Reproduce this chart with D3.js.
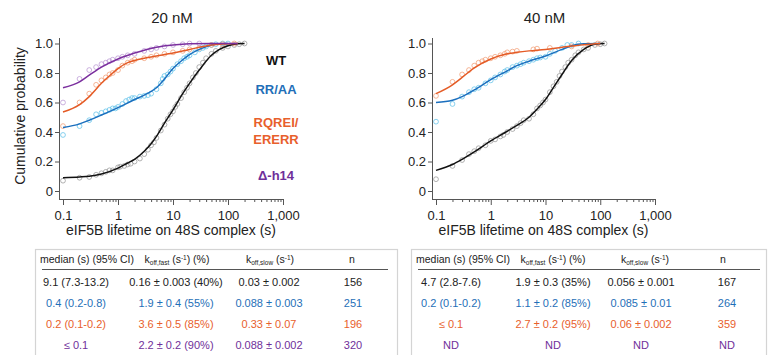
<!DOCTYPE html>
<html>
<head>
<meta charset="utf-8">
<script src="https://cdn.jsdelivr.net/npm/d3@7"></script>
<style>
  body { margin: 0; background: #fff; }
  svg { display: block; font-family: "Liberation Sans", Arial, sans-serif; }
  .axis path, .axis line { stroke: #555; }
  .axis text { fill: #222; font-size: 13px; font-family: "Liberation Sans", Arial, sans-serif; }
</style>
</head>
<body>
<div id="chart"></div>
<script>
// panel titles and series
const panelTitles = ['20 nM', '40 nM'];
const seriesNames = ['WT', 'RR/AA', 'RQREI/ERERR', 'Δ-h14'];
const lineColors = ['#111111', '#1b6fbe', '#e45b26', '#7b2f9e'];
const dotColors = ['#9a9a9a', '#62c3ea', '#f29f78', '#bb98d4'];
const xTicks = [0.1, 1, 10, 100, 1000];
const yTicks = [0, 0.2, 0.4, 0.6, 0.8, 1.0];

// fitted curves, 20 nM  [lifetime (s), cumulative probability]
const fit20WT = [[0.1,0.09],[0.2,0.095],[0.3,0.10],[0.5,0.115],[1,0.155],[1.5,0.19],[2,0.215],[3,0.27],[4,0.32],[5,0.37],[7,0.46],[10,0.55],[15,0.66],[20,0.73],[30,0.82],[50,0.92],[70,0.96],[100,0.985],[150,0.998],[200,1.0]];
const fit20RR = [[0.1,0.43],[0.2,0.455],[0.3,0.48],[0.5,0.515],[1,0.565],[2,0.62],[3,0.65],[4,0.675],[5,0.70],[7,0.76],[10,0.83],[15,0.89],[20,0.925],[30,0.96],[50,0.99],[70,0.998],[100,1.0]];
const fit20RQ = [[0.1,0.535],[0.2,0.585],[0.3,0.64],[0.5,0.73],[0.8,0.80],[1,0.83],[1.5,0.87],[2,0.885],[3,0.90],[5,0.915],[10,0.935],[20,0.96],[50,0.99],[100,0.999],[150,1.0]];
const fit20DH = [[0.1,0.70],[0.2,0.74],[0.3,0.785],[0.5,0.84],[1,0.895],[2,0.935],[5,0.975],[10,0.99],[20,0.998],[50,1.0],[150,1.0]];

// empirical points, 20 nM
const pts20WT = [[0.1,0.07],[0.2,0.09],[0.3,0.095],[0.4,0.11],[0.5,0.12],[0.6,0.13],[0.7,0.14],[0.8,0.14],[1.0,0.16],[1.1,0.165],[1.3,0.17],[1.5,0.18],[1.7,0.185],[2.0,0.2],[2.5,0.22],[3,0.25],[3.5,0.28],[4,0.31],[4.5,0.33],[5,0.36],[6,0.41],[7,0.45],[8,0.49],[9,0.52],[10,0.54],[11,0.57],[12,0.59],[14,0.63],[16,0.67],[18,0.70],[20,0.73],[23,0.77],[26,0.80],[30,0.84],[35,0.87],[40,0.90],[50,0.93],[60,0.95],[80,0.97],[100,0.98],[130,0.99],[160,0.995],[200,1.0]];
const pts20RR = [[0.1,0.38],[0.2,0.44],[0.3,0.48],[0.4,0.52],[0.5,0.53],[0.6,0.54],[0.7,0.55],[0.8,0.56],[0.9,0.56],[1.0,0.57],[1.2,0.59],[1.4,0.61],[1.6,0.62],[1.8,0.63],[2,0.63],[2.5,0.64],[3,0.645],[3.5,0.65],[4,0.66],[5,0.69],[6,0.73],[6.5,0.76],[7,0.78],[8,0.79],[9,0.81],[10,0.83],[12,0.86],[14,0.88],[16,0.90],[18,0.91],[20,0.92],[25,0.94],[30,0.96],[35,0.97],[40,0.98],[50,0.99],[60,0.995],[80,1.0],[100,1.0]];
const pts20RQ = [[0.1,0.44],[0.2,0.60],[0.3,0.66],[0.4,0.72],[0.5,0.75],[0.6,0.77],[0.7,0.79],[0.8,0.80],[1.0,0.82],[1.2,0.85],[1.5,0.87],[1.8,0.88],[2,0.89],[3,0.90],[4,0.91],[5,0.92],[7,0.93],[10,0.94],[15,0.95],[20,0.96],[30,0.97],[50,0.99],[80,0.995],[130,1.0]];
const pts20DH = [[0.1,0.60],[0.2,0.76],[0.3,0.82],[0.4,0.84],[0.5,0.86],[0.6,0.87],[0.7,0.88],[0.8,0.89],[1.0,0.90],[1.2,0.91],[1.5,0.92],[2,0.93],[3,0.95],[4,0.96],[5,0.97],[7,0.98],[10,0.99],[15,0.995],[20,1.0],[30,1.0]];

// fitted curves, 40 nM
const fit40WT = [[0.1,0.14],[0.2,0.18],[0.3,0.215],[0.5,0.265],[1,0.34],[2,0.405],[3,0.445],[5,0.50],[7,0.555],[10,0.62],[15,0.72],[20,0.79],[30,0.885],[50,0.96],[80,0.995],[120,1.0]];
const fit40RR = [[0.1,0.60],[0.2,0.615],[0.3,0.64],[0.5,0.685],[1,0.755],[2,0.815],[3,0.85],[5,0.88],[10,0.915],[20,0.96],[30,0.985],[50,0.998],[100,1.0]];
const fit40RQ = [[0.1,0.66],[0.2,0.72],[0.3,0.77],[0.5,0.835],[1,0.895],[2,0.93],[3,0.94],[5,0.95],[10,0.96],[20,0.975],[50,0.992],[100,1.0]];

// empirical points, 40 nM
const pts40WT = [[0.1,0.08],[0.2,0.17],[0.3,0.21],[0.4,0.25],[0.5,0.27],[0.6,0.29],[0.8,0.31],[1.0,0.34],[1.2,0.35],[1.5,0.37],[1.7,0.38],[2,0.40],[2.5,0.42],[3,0.44],[3.5,0.46],[4,0.48],[5,0.49],[6,0.52],[7,0.56],[8,0.58],[9,0.60],[10,0.62],[12,0.67],[14,0.71],[16,0.74],[18,0.78],[20,0.81],[23,0.84],[26,0.87],[30,0.89],[35,0.92],[40,0.94],[50,0.96],[60,0.97],[80,0.99],[100,0.995],[120,1.0]];
const pts40RR = [[0.1,0.47],[0.2,0.59],[0.3,0.64],[0.4,0.67],[0.5,0.69],[0.6,0.70],[0.8,0.73],[1.0,0.75],[1.2,0.77],[1.5,0.79],[1.8,0.81],[2,0.82],[2.5,0.84],[3,0.85],[3.5,0.86],[4,0.87],[5,0.88],[6,0.89],[7,0.90],[8,0.905],[10,0.91],[12,0.93],[15,0.95],[20,0.97],[25,0.99],[30,0.99],[40,1.0]];
const pts40RQ = [[0.1,0.645],[0.2,0.74],[0.3,0.79],[0.4,0.82],[0.5,0.85],[0.6,0.87],[0.7,0.88],[0.8,0.89],[1.0,0.90],[1.2,0.91],[1.5,0.92],[1.8,0.93],[2,0.94],[2.5,0.945],[3,0.95],[6,0.96],[7,0.965],[12,0.97],[30,0.98],[60,0.99],[90,1.0]];

// tables
const tableHeader = ['median (s) (95% CI)', 'k|off,fast| (s|-1|) (%)', 'k|off,slow| (s|-1|)', 'n'];
const table20 = [
  ['9.1 (7.3-13.2)', '0.16 ± 0.003 (40%)', '0.03 ± 0.002', '156'],
  ['0.4 (0.2-0.8)', '1.9 ± 0.4 (55%)', '0.088 ± 0.003', '251'],
  ['0.2 (0.1-0.2)', '3.6 ± 0.5 (85%)', '0.33 ± 0.07', '196'],
  ['≤ 0.1', '2.2 ± 0.2 (90%)', '0.088 ± 0.002', '320']
];
const table40 = [
  ['4.7 (2.8-7.6)', '1.9 ± 0.3 (35%)', '0.056 ± 0.001', '167'],
  ['0.2 (0.1-0.2)', '1.1 ± 0.2 (85%)', '0.085 ± 0.01', '264'],
  ['≤ 0.1', '2.7 ± 0.2 (95%)', '0.06 ± 0.002', '359'],
  ['ND', 'ND', 'ND', 'ND']
];
const rowColors = ['#222222', '#1f6fb8', '#e8602c', '#6f2f9a'];

const width = 770, height = 355;
const svg = d3.select('#chart').append('svg')
  .attr('width', width)
  .attr('height', height);

const panels = [
  { title: panelTitles[0], x0: 63, x1: 283, fits: [fit20WT, fit20RR, fit20RQ, fit20DH], pts: [pts20WT, pts20RR, pts20RQ, pts20DH], yLabel: true, legend: true },
  { title: panelTitles[1], x0: 436, x1: 655, fits: [fit40WT, fit40RR, fit40RQ], pts: [pts40WT, pts40RR, pts40RQ], yLabel: false, legend: false }
];

panels.forEach(p => {
  const x = d3.scaleLog().domain([0.1, 1000]).range([p.x0, p.x1]);
  const y = d3.scaleLinear().domain([0, 1]).range([191, 43.5]);
  const g = svg.append('g');

  // minor ticks on the log axis
  const minor = x.ticks().filter(t => !xTicks.some(m => Math.abs(m - t) < 1e-9));
  g.append('g')
    .attr('class', 'axis')
    .attr('transform', `translate(0, 199)`)
    .call(d3.axisBottom(x).tickValues(minor).tickSize(3).tickFormat(''))
    .select('.domain').remove();
  g.append('g')
    .attr('class', 'axis')
    .attr('transform', `translate(0, 199)`)
    .call(d3.axisBottom(x).tickValues(xTicks).tickSize(6).tickSizeOuter(0).tickFormat(d3.format(',')))
    .call(a => a.select('.domain').attr('d', `M${p.x0 - 4},0.5H${p.x1}`))
    .selectAll('text').attr('dy', '0.95em');

  g.append('g')
    .attr('class', 'axis')
    .attr('transform', `translate(${p.x0 - 4}, 0)`)
    .call(d3.axisLeft(y).tickValues(yTicks).tickSize(4).tickSizeOuter(0)
      .tickFormat(d => d === 0 ? '0' : d3.format('.1f')(d)))
    .call(a => a.select('.domain').attr('d', `M0.5,38V199`))
    .selectAll('text').attr('x', -6);

  // title
  g.append('text')
    .attr('x', (p.x0 + p.x1) / 2 - 1)
    .attr('y', 23)
    .attr('text-anchor', 'middle')
    .style('font-size', '15px')
    .style('fill', '#222')
    .text(p.title);

  // x label
  g.append('text')
    .attr('x', (p.x0 + p.x1) / 2 - 2)
    .attr('y', 235)
    .attr('text-anchor', 'middle')
    .style('font-size', '14px')
    .style('fill', '#222')
    .text('eIF5B lifetime on 48S complex (s)');

  if (p.yLabel) {
    g.append('text')
      .attr('transform', `translate(25, 116) rotate(-90)`)
      .attr('text-anchor', 'middle')
      .style('font-size', '14px')
      .style('fill', '#222')
      .text('Cumulative probability');
  }

  const line = d3.line()
    .x(d => x(d[0]))
    .y(d => y(d[1]))
    .curve(d3.curveMonotoneX);

  // points first, fitted lines on top
  p.pts.forEach((pts, i) => {
    g.append('g').selectAll('circle')
      .data(pts)
      .enter()
      .append('circle')
      .attr('cx', d => x(d[0]))
      .attr('cy', d => y(d[1]))
      .attr('r', 2.4)
      .style('fill', 'none')
      .style('stroke', dotColors[i])
      .style('stroke-opacity', 0.85)
      .style('stroke-width', 0.9);
  });
  p.fits.forEach((fit, i) => {
    g.append('path')
      .datum(fit)
      .attr('d', line)
      .style('fill', 'none')
      .style('stroke', lineColors[i])
      .style('stroke-width', 1.5);
  });

  if (p.legend) {
    const leg = [
      { lines: [seriesNames[0]], y: 65 },
      { lines: [seriesNames[1]], y: 94 },
      { lines: ['RQREI/', 'ERERR'], y: 127 },
      { lines: [seriesNames[3]], y: 180 }
    ];
    leg.forEach((l, i) => {
      const t = g.append('text')
        .attr('x', 276)
        .attr('y', l.y)
        .attr('text-anchor', 'middle')
        .style('font-size', '13px')
        .style('font-weight', 'bold')
        .style('fill', i === 0 ? '#111' : rowColors[i]);
      l.lines.forEach((s, j) => {
        t.append('tspan').attr('x', 276).attr('dy', j === 0 ? 0 : 17).text(s);
      });
    });
  }
});

// header cell text with sub/superscripts: parts split by '|'
function headerText(sel, str) {
  const parts = str.split('|');
  parts.forEach((s, i) => {
    const ts = sel.append('tspan').text(s);
    if (i === 1) ts.attr('baseline-shift', '-25%').style('font-size', '6.5px');
    if (i === 3) ts.attr('baseline-shift', '40%').style('font-size', '6.5px');
  });
}

const tables = [
  { rows: table20, left: 35, right: 397, lineX0: 42, lineX1: 388, hdrX: [87, 177, 270, 352], colX: [76, 176, 269, 353] },
  { rows: table40, left: 411, right: 766, lineX0: 418, lineX1: 760, hdrX: [463, 553, 645, 723], colX: [451, 553, 641, 727] }
];

tables.forEach(t => {
  const g = svg.append('g');
  g.append('rect')
    .attr('x', t.left + 0.5)
    .attr('y', 249.5)
    .attr('width', t.right - t.left)
    .attr('height', 120)
    .style('fill', '#fff')
    .style('stroke', '#d4d4d4')
    .style('stroke-width', 1.2);
  g.append('line')
    .attr('x1', t.lineX0).attr('x2', t.lineX1)
    .attr('y1', 269.5).attr('y2', 269.5)
    .style('stroke', '#555')
    .style('stroke-width', 1);
  tableHeader.forEach((h, i) => {
    const tx = g.append('text')
      .attr('x', t.hdrX[i])
      .attr('y', 263)
      .attr('text-anchor', 'middle')
      .style('font-size', '10.5px')
      .style('fill', '#222');
    headerText(tx, h);
  });
  const rowY = d3.scalePoint().domain(d3.range(t.rows.length)).range([286, 349]);
  t.rows.forEach((r, ri) => {
    r.forEach((c, ci) => {
      g.append('text')
        .attr('x', t.colX[ci])
        .attr('y', rowY(ri))
        .attr('text-anchor', 'middle')
        .style('font-size', '11px')
        .style('fill', rowColors[ri])
        .text(c);
    });
  });
});
</script>
</body>
</html>
